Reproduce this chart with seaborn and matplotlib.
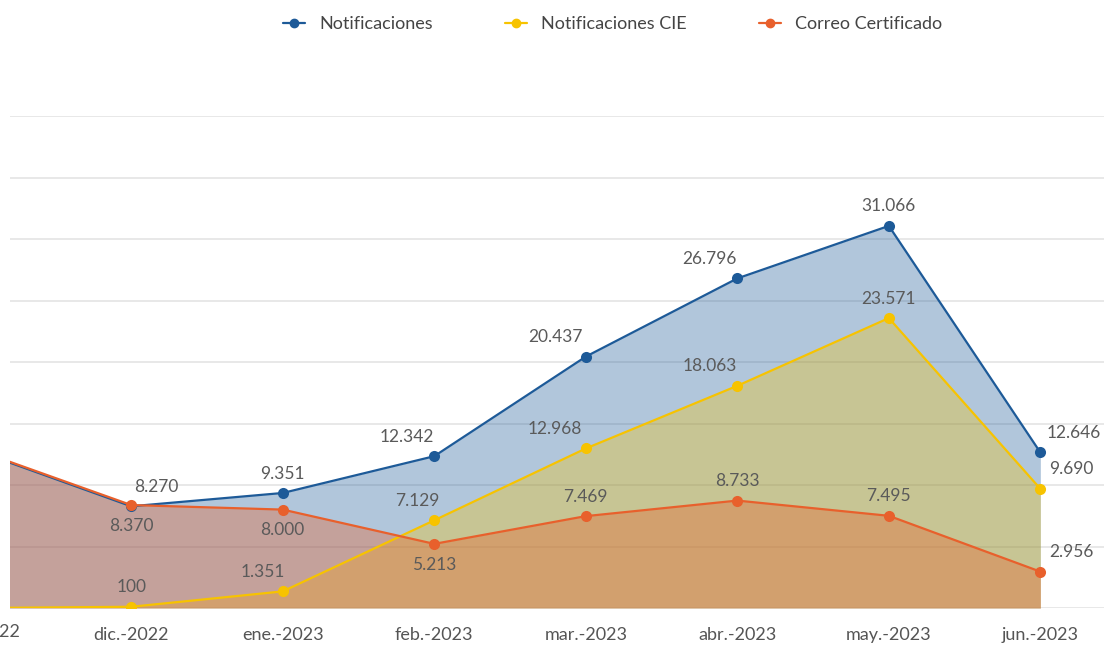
import matplotlib
matplotlib.use("Agg")
import matplotlib.pyplot as plt
import matplotlib.transforms as mtransforms
from matplotlib.lines import Line2D
import seaborn as sns
import pandas as pd
import numpy as np

months = ["nov.-2022", "dic.-2022", "ene.-2023", "feb.-2023", "mar.-2023",
          "abr.-2023", "may.-2023", "jun.-2023"]
notificaciones = [12700, 8270, 9351, 12342, 20437, 26796, 31066, 12646]
notificaciones_cie = [0, 100, 1351, 7129, 12968, 18063, 23571, 9690]
correo_certificado = [12760, 8370, 8000, 5213, 7469, 8733, 7495, 2956]
series_names = ["Notificaciones", "Notificaciones CIE", "Correo Certificado"]

sns.set_theme(style="white")
plt.rcParams['font.family'] = ['Lato', 'DejaVu Sans']

colors = {"Notificaciones": "#1d5a98",
          "Notificaciones CIE": "#f7c300",
          "Correo Certificado": "#e8602c"}
fill_alpha = {"Notificaciones": 0.34, "Notificaciones CIE": 0.32, "Correo Certificado": 0.36}

fig = plt.figure(figsize=(11.04, 6.47), dpi=100)
ax = fig.add_axes([10/1104, 1-608/647, 1-10/1104, (608-116)/647])

x = np.arange(len(months))
df = pd.DataFrame({"mes": np.tile(x, 3),
                   "valor": notificaciones + notificaciones_cie + correo_certificado,
                   "serie": np.repeat(series_names, len(months))})

for name, vals in zip(series_names, [notificaciones, notificaciones_cie, correo_certificado]):
    ax.fill_between(x, 0, vals, color=colors[name], alpha=fill_alpha[name], lw=0, zorder=1)

sns.lineplot(data=df, x="mes", y="valor", hue="serie", palette=colors,
             marker="o", markersize=8, markeredgewidth=0, linewidth=1.6,
             legend=False, ax=ax, zorder=3)

# data labels: (dx pts, dy pts)
offsets = {
    "Notificaciones": [None, (18, 14), (0, 14), (-20, 14), (-22, 14), (-20, 14), (0, 14), (24, 14)],
    "Notificaciones CIE": [None, (0, 14), (-14, 14), (-12, 14), (-22, 14), (-20, 14), (0, 14), (22, 14)],
    "Correo Certificado": [None, (0, -15), (0, -15), (0, -15), (0, 14), (0, 14), (0, 14), (22, 14)],
}
def fmt(v):
    return f"{v:,}".replace(",", ".")
for name, vals in zip(series_names, [notificaciones, notificaciones_cie, correo_certificado]):
    for i, v in enumerate(vals):
        off = offsets[name][i]
        if off is None:
            continue
        ax.annotate(fmt(v), (x[i], v), xytext=off, textcoords="offset points",
                    ha="center", va="center", fontsize=12.5, color="#5a5a5a", zorder=5)

ax.set_xlim(0.2, 7.42)
ax.set_ylim(0, 40000)
ax.set_yticks(np.arange(0, 40001, 5000))
ax.yaxis.grid(True, color="#e4e4e4", lw=1.2)
ax.set_yticklabels([])
ax.tick_params(axis="y", length=0)
ax.set_xticks(x[1:])
ax.set_xticklabels(months[1:], fontsize=13, color="#555555")
ax.tick_params(axis="x", length=0, pad=14)
for s in ax.spines.values():
    s.set_visible(False)
ax.set_xlabel("")
ax.set_ylabel("")

trans = mtransforms.blended_transform_factory(ax.transData, ax.transAxes)
ax.text(0, -0.033, months[0], transform=trans, fontsize=13, color="#555555",
        ha="center", va="top", clip_on=False)

handles = [Line2D([0], [0], color=colors[n], marker="o", markersize=6, lw=1.6) for n in series_names]
fig.legend(handles, series_names, loc="upper center", bbox_to_anchor=(0.555, 1.0),
           ncol=3, frameon=False, fontsize=13, handlelength=1.2, columnspacing=4,
           labelcolor="#444444")

fig.savefig("out.png", dpi=100, facecolor="white")
